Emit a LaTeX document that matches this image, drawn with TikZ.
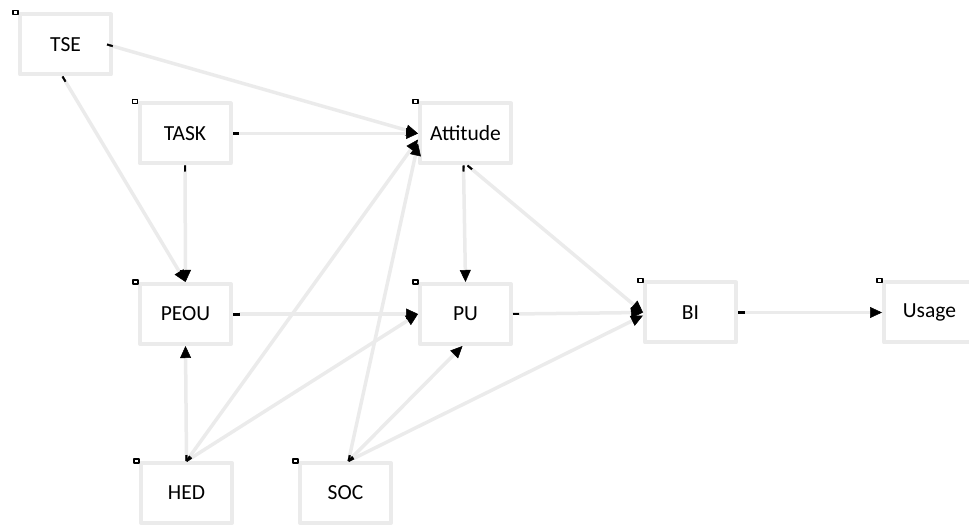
\documentclass[tikz,border=0pt]{standalone}
\usepackage{fontspec}
\setmainfont{Carlito}
\usetikzlibrary{arrows.meta}
\begin{document}
\begin{tikzpicture}[x=1pt, y=-1pt, line join=round]
	\tikzset{box/.style={draw=gray!16, line width=4pt, fill=white, minimum width=91pt, minimum height=60pt, font=\fontsize{21.5}{25}\selectfont},
		link/.style={draw=gray!16, line width=3.5pt, {Rectangle[color=black,fill=black,line width=0.3pt,length=6pt,width=2pt]}-{Triangle[color=black,fill=black,line width=0.5pt,length=12pt,width=11pt]}},
		corner/.style={draw=black, line width=1.3pt, fill=white}}
	
	\useasboundingbox (0,0) rectangle (969,526);
	% boxes
	\node[box] (tse) at (65.5,44.5) {TSE};
	\node[box] (task) at (185,133.5) {TASK};
	\node[box] (att) at (465.5,133.5) {Attitude};
	\node[box] (peou) at (185.5,314) {PEOU};
	\node[box] (pu) at (465.5,314) {PU};
	\node[box] (bi) at (690.5,312.5) {BI};
	\node[box] (usage) at (929.5,312.5) {Usage};
	\node[box] (hed) at (186.5,493) {HED};
	\node[box] (soc) at (345.5,493) {SOC};
	\foreach \n in {tse,task,att,peou,pu,bi,usage,hed,soc}
	\draw[corner] ([shift={(-5,-2)}]\n.north west) rectangle +(5,4);
	% links
	\draw[link] ([xshift=-6pt]tse.east) -- (att.west);
	\draw[link] ([xshift=-3pt]tse.south) -- (peou.north);
	\draw[link] (task.east) -- (att.west);
	\draw[link] (task.south) -- (peou.north);
	\draw[link] ([xshift=-2pt]att.south) -- (pu.north);
	\draw[link] ([xshift=2pt]att.south) -- (bi.west);
	\draw[link] (peou.east) -- (pu.west);
	\draw[link] (pu.east) -- (bi.west);
	\draw[link] (bi.east) -- (usage.west);
	\draw[link] (hed.north) -- (peou.south);
	\draw[link] (hed.north) -- ([yshift=-6pt]att.west);
	\draw[link] (hed.north) -- (pu.west);
	\draw[link] ([xshift=3pt]soc.north) -- ([yshift=-10pt]att.west);
	\draw[link] ([xshift=3pt]soc.north) -- ([xshift=-3pt]pu.south);
	\draw[link] ([xshift=3pt]soc.north) -- ([yshift=-3pt]bi.west);
\end{tikzpicture}
\end{document}
